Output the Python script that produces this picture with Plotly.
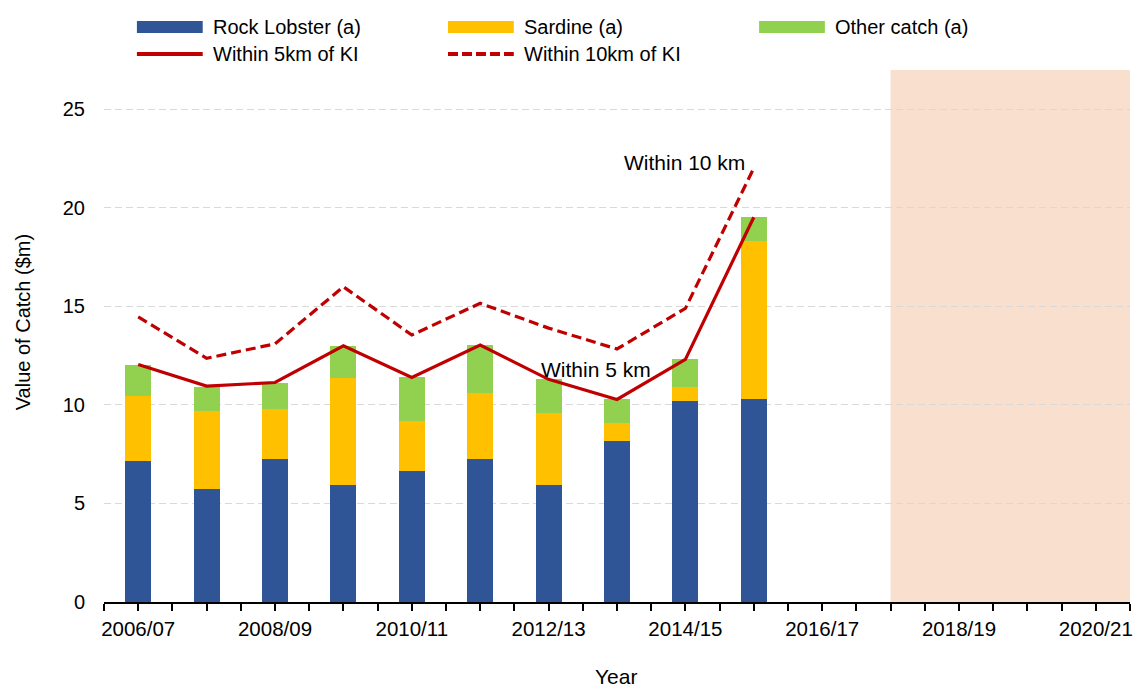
import plotly.graph_objects as go

years = ["2006/07", "2007/08", "2008/09", "2009/10", "2010/11", "2011/12", "2012/13",
         "2013/14", "2014/15", "2015/16", "2016/17", "2017/18", "2018/19", "2019/20", "2020/21"]
rock_lobster = [7.16, 5.74, 7.26, 5.95, 6.64, 7.25, 5.93, 8.16, 10.18, 10.30]
sardine = [3.28, 3.96, 2.56, 5.40, 2.54, 3.35, 3.66, 0.90, 0.71, 8.01]
other_catch = [1.61, 1.23, 1.32, 1.63, 2.22, 2.44, 1.71, 1.22, 1.42, 1.22]
within_5km = [12.05, 10.96, 11.14, 13.00, 11.40, 13.04, 11.30, 10.28, 12.31, 19.53]
within_10km = [14.47, 12.37, 13.10, 16.00, 13.55, 15.16, 13.90, 12.84, 14.90, 22.02]
forecast_start = "2017/18"

BLUE = "#2F5597"
YELLOW = "#FFC000"
GREEN = "#92D050"
RED = "#C00000"
SHADE = "#F8DFCE"
FONT = "Liberation Sans, Arial, sans-serif"

# body margin is removed in the page (post_script), so figure coords == screen coords
W, H = 1136, 688
ML, MR, MT, MB = 104, W - 1133, 70, H - 602
PW, PH = W - ML - MR, H - MT - MB

xi = list(range(len(rock_lobster)))

fig = go.Figure()
for name, vals, col in [("Rock Lobster (a)", rock_lobster, BLUE),
                        ("Sardine (a)", sardine, YELLOW),
                        ("Other catch (a)", other_catch, GREEN)]:
    fig.add_trace(go.Bar(x=xi, y=vals, name=name, marker=dict(color=col, line=dict(width=0)),
                         width=0.38, showlegend=False))

fig.add_trace(go.Scatter(x=xi, y=within_5km, mode="lines", name="Within 5km of KI",
                         line=dict(color=RED, width=3.2), showlegend=False))
fig.add_trace(go.Scatter(x=xi, y=within_10km, mode="lines", name="Within 10km of KI",
                         line=dict(color=RED, width=3.2, dash="10px,5px"), showlegend=False))

# forecast shaded region
fi = years.index(forecast_start)
fig.add_shape(type="rect", xref="x", yref="paper", x0=fi, x1=len(years) - 0.5, y0=0, y1=1,
              fillcolor=SHADE, line=dict(width=0), layer="below")


def px(x):
    """pixel x -> paper"""
    return (x - ML) / PW


def py(y):
    """pixel y -> paper"""
    return (H - MB - y) / PH


# custom legend (wide swatches as in the reference)
legend_items = [
    ("Rock Lobster (a)", "rect", BLUE, 137, 27),
    ("Sardine (a)", "rect", YELLOW, 449, 27),
    ("Other catch (a)", "rect", GREEN, 761, 27),
    ("Within 5km of KI", "solid", RED, 137, 54),
    ("Within 10km of KI", "dash", RED, 449, 54),
]
for label, kind, col, x0, yc in legend_items:
    if kind == "rect":
        fig.add_shape(type="rect", xref="paper", yref="paper", x0=px(x0), x1=px(x0 + 66),
                      y0=py(yc + 6), y1=py(yc - 6), fillcolor=col, line=dict(width=0))
    else:
        fig.add_shape(type="line", xref="paper", yref="paper", x0=px(x0), x1=px(x0 + 66),
                      y0=py(yc), y1=py(yc),
                      line=dict(color=col, width=4, dash="solid" if kind == "solid" else "10px,4px"))
    fig.add_annotation(text=label, xref="paper", yref="paper", x=px(x0 + 74), y=py(yc),
                       xanchor="left", yanchor="middle", showarrow=False,
                       font=dict(family=FONT, size=20, color="#000"))

fig.add_annotation(text="Within 10 km", x=7.98, y=22.3, xref="x", yref="y", showarrow=False,
                   font=dict(family=FONT, size=21, color="#000"))
fig.add_annotation(text="Within 5 km", x=6.7, y=11.8, xref="x", yref="y", showarrow=False,
                   font=dict(family=FONT, size=21, color="#000"))

# axis titles
fig.add_annotation(text="Value of Catch ($m)", xref="paper", yref="paper", x=px(23), y=py(322),
                   textangle=-90, showarrow=False, xanchor="center", yanchor="middle",
                   font=dict(family=FONT, size=20, color="#000"))
fig.add_annotation(text="Year", xref="paper", yref="paper", x=px(617), y=py(676),
                   showarrow=False, xanchor="center", yanchor="middle",
                   font=dict(family=FONT, size=21, color="#000"))

tickvals = [i / 2 for i in range(-1, 2 * len(years))]
ticktext = [years[int(v)] if (v == int(v) and int(v) % 2 == 0) else "" for v in tickvals]

fig.update_layout(
    width=W, height=H,
    margin=dict(l=ML, r=MR, t=MT, b=MB),
    barmode="stack",
    plot_bgcolor="white", paper_bgcolor="white",
    font=dict(family=FONT, size=20, color="#000"),
    xaxis=dict(range=[-0.5, len(years) - 0.5], tickmode="array", tickvals=tickvals, ticktext=ticktext,
               ticks="outside", ticklen=7, tickwidth=2, tickcolor="#000",
               showline=True, linecolor="#000", linewidth=2, showgrid=False, zeroline=False,
               tickfont=dict(size=20.5), ticklabeloverflow="allow"),
    yaxis=dict(range=[0, 27], tickvals=[0, 5, 10, 15, 20, 25], showgrid=True,
               gridcolor="#D9D9D9", griddash="7px,4px", gridwidth=1.2, zeroline=False, showline=False,
               ticks="", ticklabelstandoff=18, tickfont=dict(size=20)),
)

fig.write_html("out.html", config={"displayModeBar": False},
               post_script="document.body.style.margin='0';document.body.style.overflow='hidden';")
